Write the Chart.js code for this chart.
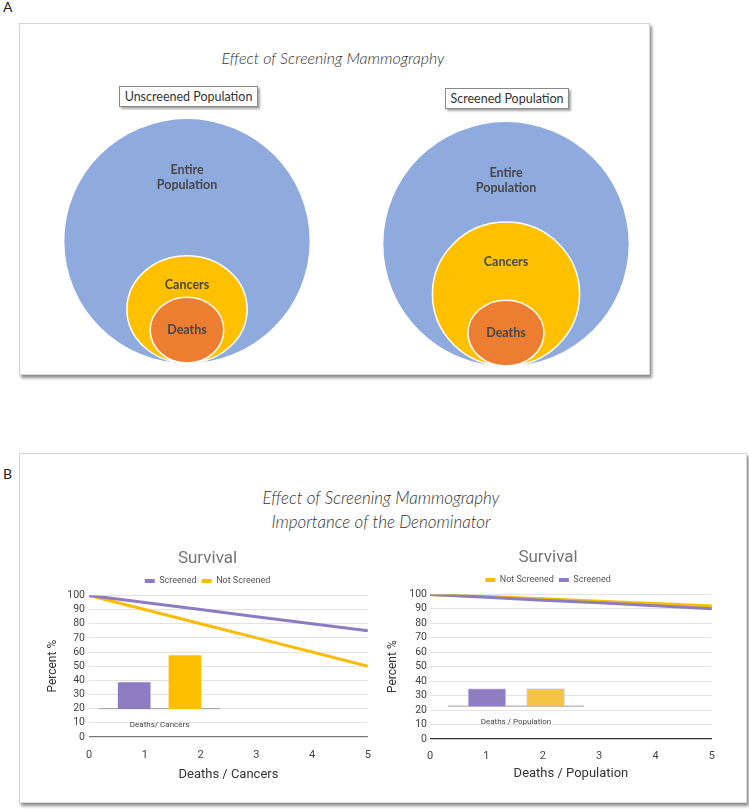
<!DOCTYPE html>
<html>
<head>
<meta charset="utf-8">
<script src="https://cdn.jsdelivr.net/npm/chart.js@4.4.1/dist/chart.umd.min.js"></script>
<style>
  * { box-sizing: border-box; }
  body { margin: 0; width: 749px; height: 809px; position: relative; overflow: hidden; background: #fff; font-family: Lato, sans-serif; }
  canvas { position: absolute; }
  .panel { position: absolute; background: #fff; border: 1px solid #d6d6d6; box-shadow: 2px 3px 3px rgba(0,0,0,0.45); }
  .tag { position: absolute; font-size: 14px; line-height: 16px; color: #222; }
  .ptitle { position: absolute; text-align: center; font-style: italic; font-weight: 300; color: #333; white-space: nowrap; }
  .grp { position: absolute; border: 1px solid #8a8a8a; box-shadow: 2px 2px 2px rgba(0,0,0,0.35); background: #fff;
         font-size: 12.5px; line-height: 19px; color: #333; text-align: center; white-space: nowrap; }
</style>
</head>
<body>
  <div class="tag" style="left:3px; top:-1px;">A</div>
  <div class="panel" style="left:19px; top:23px; width:631px; height:352px;"></div>
  <div class="ptitle" style="left:133px; top:47px; width:400px; font-size:16px; line-height:22px;">Effect of Screening Mammography</div>
  <div class="grp" style="left:119px; top:86px; width:139px; height:21px;">Unscreened Population</div>
  <div class="grp" style="left:445px; top:88px; width:124px; height:21px;">Screened Population</div>
  <canvas id="venn-unscreened" width="260" height="250" style="left:57px; top:113px;"></canvas>
  <canvas id="venn-screened" width="260" height="250" style="left:376px; top:116px;"></canvas>

  <div class="tag" style="left:3px; top:466px;">B</div>
  <div class="panel" style="left:19px; top:453px; width:728px; height:350px;"></div>
  <div class="ptitle" style="left:181px; top:486px; width:400px; font-size:17px; line-height:24px;">Effect of Screening Mammography<br>Importance of the Denominator</div>
  <canvas id="surv-cancers" width="335" height="255" style="left:40px; top:541px;"></canvas>
  <canvas id="surv-population" width="340" height="255" style="left:378px; top:540px;"></canvas>

<script>
// --- Panel A: nested populations, radii relative to the entire population ---
const layerLabels = [['Entire', 'Population'], ['Cancers'], ['Deaths']];
const layerColors = ['#8faadc', '#ffc000', '#ed7d31'];
const unscreenedRx = [1.0, 0.49, 0.30];
const unscreenedRy = [1.0, 0.44, 0.27];
const screenedRx = [1.0, 0.60, 0.31];
const screenedRy = [1.0, 0.59, 0.27];

// --- Panel B: survival curves ---
const xTicks = [0, 1, 2, 3, 4, 5];
const cancersScreened = [100, 95, 90, 85, 80, 75];
const cancersNotScreened = [100, 90, 80, 70, 60, 50];
const populationNotScreened = [100, 98.5, 97, 95.3, 93.7, 92];
const populationScreened = [100, 98, 96, 94.2, 92.2, 90];

// inset bars (deaths ratio), drawn on the same axes
const cancersBarX = [0.81, 1.72];
const cancersBarTop = [38.5, 57.5];
const cancersBarBase = 20;
const cancersBaseline = [0.18, 2.35];
const populationBarX = [1.01, 2.05];
const populationBarTop = [34.8, 34.8];
const populationBarBase = 22.7;
const populationBaseline = [0.32, 2.73];

const PURPLE = '#8e7cc3';
const YELLOW = '#fbbc04';

const ellipsePlugin = {
  id: 'ellipses',
  afterDatasetsDraw(chart) {
    const { ctx, scales: { x, y } } = chart;
    const shapes = chart.data.datasets.map(ds => {
      const p = ds.data[0];
      const cx = x.getPixelForValue(p.x);
      const cy = y.getPixelForValue(p.y);
      return {
        cx, cy,
        rx: Math.abs(x.getPixelForValue(p.x + p.rx) - cx),
        ry: Math.abs(y.getPixelForValue(p.y + p.ry) - cy),
        ds,
      };
    });
    ctx.save();
    shapes.forEach((s, i) => {
      ctx.beginPath();
      ctx.ellipse(s.cx, s.cy, s.rx, s.ry, 0, 0, Math.PI * 2);
      ctx.fillStyle = s.ds.backgroundColor;
      ctx.fill();
      if (i > 0) {
        ctx.strokeStyle = '#fff';
        ctx.lineWidth = 1.5;
        ctx.stroke();
      }
    });
    ctx.font = 'bold 12.5px Lato';
    ctx.fillStyle = '#474747';
    ctx.textAlign = 'center';
    ctx.textBaseline = 'middle';
    const lift = [0.52, 0.45, 0];
    shapes.forEach((s, i) => {
      const lines = s.ds.label;
      const ly = s.cy - s.ry * lift[i];
      lines.forEach((t, k) => ctx.fillText(t, s.cx, ly + (k - (lines.length - 1) / 2) * 15));
    });
    ctx.restore();
  },
};

function vennChart(id, rxs, rys) {
  new Chart(document.getElementById(id), {
    type: 'scatter',
    data: {
      datasets: rxs.map((rx, i) => ({
        label: layerLabels[i],
        data: [{ x: 0, y: rys[i], rx: rx, ry: rys[i] }],
        backgroundColor: layerColors[i],
        pointRadius: 0,
      })),
    },
    options: {
      responsive: false,
      animation: false,
      events: [],
      layout: { padding: 0 },
      scales: {
        x: { type: 'linear', min: -1.06, max: 1.06, display: false },
        y: { type: 'linear', min: 0, max: 2.05, display: false },
      },
      plugins: { legend: { display: false }, tooltip: { enabled: false } },
    },
    plugins: [ellipsePlugin],
  });
}

const insetLabelPlugin = {
  id: 'insetLabel',
  afterDatasetsDraw(chart, args, opts) {
    const { ctx, scales: { x, y } } = chart;
    const px = x.getPixelForValue((opts.from + opts.to) / 2);
    const py = y.getPixelForValue(opts.base) + 16;
    ctx.save();
    ctx.font = '8px Roboto';
    ctx.fillStyle = '#444';
    ctx.textAlign = 'center';
    ctx.textBaseline = 'middle';
    ctx.fillText(opts.text, px, py);
    ctx.restore();
  },
};

function survivalChart(id, cfg) {
  const lines = cfg.series.map(s => ({
    type: 'line',
    label: s.label,
    data: xTicks.map((x, i) => ({ x, y: s.values[i] })),
    borderColor: s.color,
    backgroundColor: s.color,
    borderWidth: 3,
    pointRadius: 0,
    tension: 0,
    order: s.order,
  }));

  new Chart(document.getElementById(id), {
    type: 'line',
    data: {
      datasets: [
        ...lines,
        {
          type: 'bar',
          label: 'inset',
          data: cfg.barX.map((x, i) => ({ x, y: [cfg.barBase, cfg.barTop[i]] })),
          backgroundColor: cfg.barColors,
          borderColor: cfg.barBorder,
          borderWidth: cfg.barBorder ? 1 : 0,
          barThickness: cfg.barWidth,
          order: 5,
        },
        {
          type: 'line',
          label: 'baseline',
          data: cfg.baseline.map(x => ({ x, y: cfg.barBase })),
          borderColor: '#9e9e9e',
          borderWidth: 1,
          pointRadius: 0,
          order: 6,
        },
      ],
    },
    options: {
      responsive: false,
      animation: false,
      events: [],
      layout: { padding: { top: 0, right: 0, bottom: 0, left: 0 } },
      scales: {
        x: {
          type: 'linear',
          min: 0,
          max: 5,
          offset: false,
          afterFit: s => { s.height = cfg.xAxisHeight; },
          grid: { display: false, offset: false },
          border: { display: false },
          ticks: { stepSize: 1, padding: cfg.xTickPad, color: '#444', font: { family: 'Roboto', size: 11 } },
          title: {
            display: true,
            text: cfg.xTitle,
            color: '#333',
            font: { family: 'Roboto', size: 13 },
            padding: { top: 0, bottom: 13 },
          },
        },
        y: {
          min: 0,
          max: 100,
          afterFit: s => { s.width = cfg.yAxisWidth; },
          grid: {
            drawTicks: false,
            color: c => (c.tick.value === 0 ? cfg.zeroColor : '#e3e3e3'),
            lineWidth: c => (c.tick.value === 0 ? 1.2 : 1),
          },
          border: { display: false },
          ticks: {
            stepSize: 10,
            autoSkip: false,
            padding: cfg.yTickPad,
            color: '#444',
            font: { family: 'Roboto', size: 10.5 },
          },
          title: {
            display: true,
            text: 'Percent %',
            color: '#333',
            font: { family: 'Roboto', size: 12 },
            padding: { top: cfg.yTitlePad, bottom: 0 },
          },
        },
      },
      plugins: {
        title: {
          display: true,
          text: 'Survival',
          color: '#757575',
          font: { family: 'Roboto', size: 17, weight: 'normal' },
          padding: { top: 8, bottom: 2 },
        },
        legend: {
          display: true,
          labels: {
            boxWidth: 10,
            boxHeight: 4,
            padding: 5,
            color: '#555',
            font: { family: 'Roboto', size: 9 },
            generateLabels: chart => Chart.defaults.plugins.legend.labels.generateLabels(chart)
              .filter(l => l.datasetIndex < 2)
              .map(l => ({ ...l, lineWidth: 0 })),
            sort: (a, b) => a.datasetIndex - b.datasetIndex,
          },
        },
        tooltip: { enabled: false },
        insetLabel: { text: cfg.insetText, from: cfg.baseline[0], to: cfg.baseline[1], base: cfg.barBase },
      },
    },
    plugins: [insetLabelPlugin],
  });
}

vennChart('venn-unscreened', unscreenedRx, unscreenedRy);
vennChart('venn-screened', screenedRx, screenedRy);

survivalChart('surv-cancers', {
  series: [
    { label: 'Screened', values: cancersScreened, color: PURPLE, order: 1 },
    { label: 'Not Screened', values: cancersNotScreened, color: YELLOW, order: 2 },
  ],
  barX: cancersBarX,
  barTop: cancersBarTop,
  barBase: cancersBarBase,
  baseline: cancersBaseline,
  barColors: [PURPLE, '#ffbf00'],
  barBorder: null,
  barWidth: 32,
  insetText: 'Deaths/ Cancers',
  xTitle: 'Deaths / Cancers',
  xAxisHeight: 59,
  yAxisWidth: 49,
  xTickPad: 4,
  yTickPad: 4,
  yTitlePad: 6,
  zeroColor: '#777',
});

survivalChart('surv-population', {
  series: [
    { label: 'Not Screened', values: populationNotScreened, color: YELLOW, order: 2 },
    { label: 'Screened', values: populationScreened, color: PURPLE, order: 1 },
  ],
  barX: populationBarX,
  barTop: populationBarTop,
  barBase: populationBarBase,
  baseline: populationBaseline,
  barColors: [PURPLE, '#f4c542'],
  barBorder: '#d9d2ee',
  barWidth: 38,
  insetText: 'Deaths / Population',
  xTitle: 'Deaths / Population',
  xAxisHeight: 56,
  yAxisWidth: 52,
  xTickPad: 3,
  yTickPad: 3,
  yTitlePad: 8,
  zeroColor: '#333',
});
</script>
</body>
</html>
